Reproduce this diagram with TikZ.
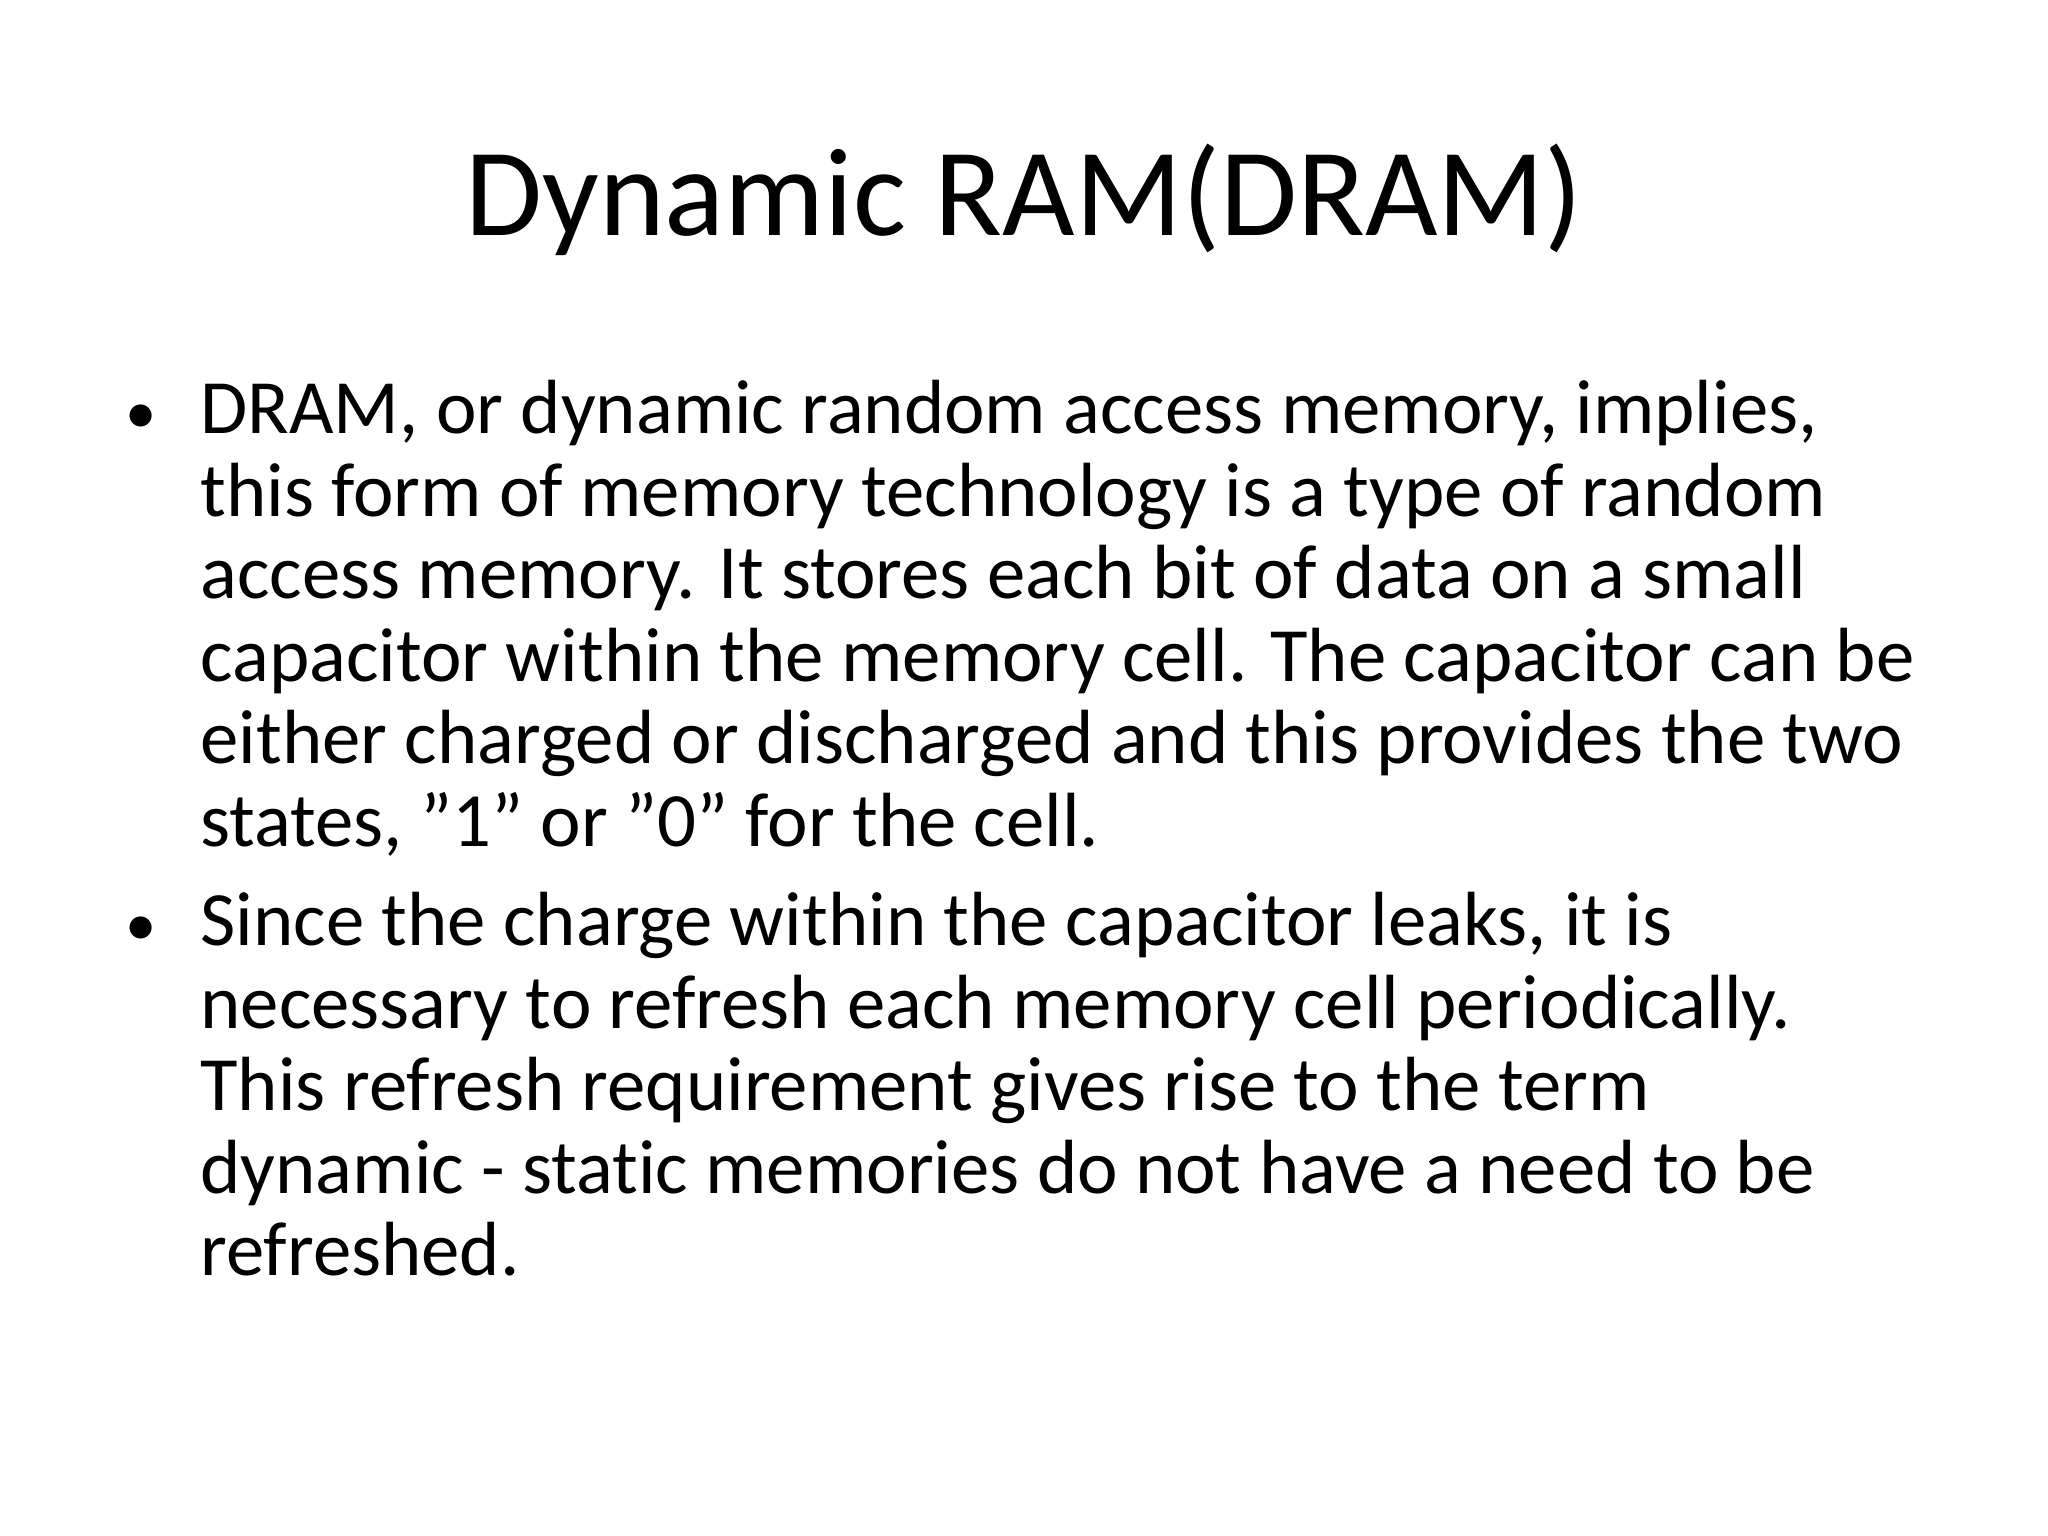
\documentclass[tikz,border=0pt]{standalone}
\usepackage{fontspec}
\setmainfont{Carlito}[Ligatures=NoCommon]
\newcommand{\dq}{\symbol{"22}}
\begin{document}
\begin{tikzpicture}[x=1pt,y=1pt,
  ln/.style={anchor=base west,inner sep=0pt,font=\fontsize{27}{29}\selectfont},
  bul/.style={anchor=base west,inner sep=0pt,font=\fontsize{22}{29}\selectfont}]
\useasboundingbox[fill=white] (0,0) rectangle (720,-540);
\node[anchor=base,inner sep=0pt,font=\fontsize{44}{48}\selectfont] (title) at (360,-82.7) {Dynamic RAM(DRAM)};
\node[bul] (b1) at (44,-152.5) {•};
\node[ln] (l1) at (70.3,-152.5) {DRAM, or dynamic random access memory, implies,};
\node[ln] (l2) at (70.3,-181.5) {this form of memory technology is a type of random};
\node[ln] (l3) at (70.3,-210.5) {access memory. It stores each bit of data on a small};
\node[ln] (l4) at (70.3,-239.5) {capacitor within the memory cell. The capacitor can be};
\node[ln] (l5) at (70.3,-268.5) {either charged or discharged and this provides the two};
\node[ln] (l6) at (70.3,-297.5) {states, \dq1\dq{} or \dq0\dq{} for the cell.};
\node[bul] (b2) at (44,-332.5) {•};
\node[ln] (m1) at (70.3,-332.5) {Since the charge within the capacitor leaks, it is};
\node[ln] (m2) at (70.3,-361.5) {necessary to refresh each memory cell periodically.};
\node[ln] (m3) at (70.3,-390.5) {This refresh requirement gives rise to the term};
\node[ln] (m4) at (70.3,-419.5) {dynamic - static memories do not have a need to be};
\node[ln] (m5) at (70.3,-448.5) {refreshed.};
\end{tikzpicture}
\end{document}
